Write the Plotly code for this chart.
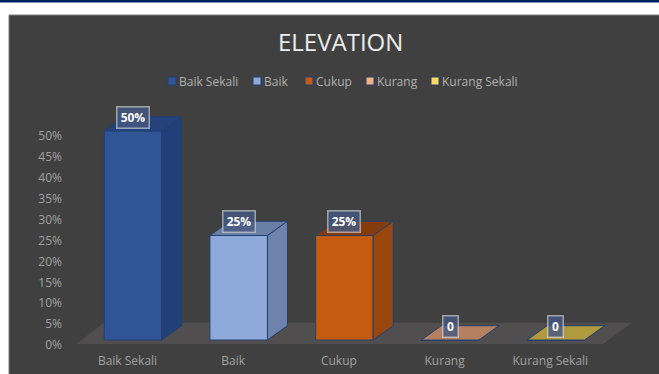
import plotly.graph_objects as go

# Chart data
categories = ["Baik Sekali", "Baik", "Cukup", "Kurang", "Kurang Sekali"]
values = [50, 25, 25, 0, 0]
value_labels = ["50%", "25%", "25%", "0", "0"]
y_ticks = [0, 5, 10, 15, 20, 25, 30, 35, 40, 45, 50]
y_tick_labels = [f"{t}%" for t in y_ticks]

# Per-series colours
front_colors = ["#2F5597", "#8EAADB", "#C55A11", "#F4B183", "#FFD966"]
side_colors = ["#213F78", "#6E83AB", "#9A470E", "#9A7A5E", "#9C8A40"]
top_colors = ["#24437C", "#6A7FA6", "#843C0C", "#B5805F", "#B09A3E"]
OUTLINE = "#24406F"

# Page geometry, in pixels
W, H = 659, 374
ML, MR, MT, MB = 66, 19, 90, 30
PLOT_W, PLOT_H = W - ML - MR, H - MT - MB
PX_PER_CATEGORY = 105.7
PX_PER_UNIT = 4.18
FIRST_BAR_PX = 133.0
BAR_LIFT_PX = 4.0      # bars stand slightly behind the front edge of the floor
BAR_WIDTH = 57.5 / PX_PER_CATEGORY
DEPTH_X = 20.0 / PX_PER_CATEGORY
DEPTH_Y = 14.3 / PX_PER_UNIT
LABEL_SHIFT = 5.5 / PX_PER_CATEGORY


def paper_x(px):
    return (px - ML) / PLOT_W


def paper_y(px):
    return (H - MB - px) / PLOT_H


x_range = [(ML - FIRST_BAR_PX) / PX_PER_CATEGORY, (W - MR - FIRST_BAR_PX) / PX_PER_CATEGORY]
y_top = PLOT_H / PX_PER_UNIT
y2_shift = BAR_LIFT_PX / PX_PER_UNIT

fig = go.Figure()
half = BAR_WIDTH / 2

# Front faces
for i, (name, v) in enumerate(zip(categories, values)):
    fig.add_trace(go.Bar(
        x=[i], y=[v], width=BAR_WIDTH, name=name, yaxis="y2",
        marker=dict(color=front_colors[i], line=dict(color=OUTLINE, width=1)),
        showlegend=False, hoverinfo="skip",
    ))

# Side and top faces, extruded from each bar's value
for i, v in enumerate(values):
    left, right = i - half, i + half
    if v > 0:
        fig.add_trace(go.Scatter(
            x=[right, right + DEPTH_X, right + DEPTH_X, right, right],
            y=[0, DEPTH_Y, v + DEPTH_Y, v, 0],
            yaxis="y2", mode="lines", fill="toself", fillcolor=side_colors[i],
            line=dict(color=OUTLINE, width=1), showlegend=False, hoverinfo="skip",
        ))
    fig.add_trace(go.Scatter(
        x=[left, right, right + DEPTH_X, left + DEPTH_X, left],
        y=[v, v, v + DEPTH_Y, v + DEPTH_Y, v],
        yaxis="y2", mode="lines", fill="toself", fillcolor=top_colors[i],
        line=dict(color=OUTLINE, width=1), showlegend=False, hoverinfo="skip",
    ))

shapes = [
    # Page furniture: dark panel and navy rule
    dict(type="rect", xref="paper", yref="paper", layer="below",
         x0=paper_x(9), x1=paper_x(W + 2), y0=paper_y(H + 2), y1=paper_y(15),
         fillcolor="#404040", line=dict(color="#7F7F7F", width=1)),
    dict(type="rect", xref="paper", yref="paper", layer="below",
         x0=paper_x(0), x1=paper_x(W), y0=paper_y(2.5), y1=paper_y(0),
         fillcolor="#002060", line=dict(width=0)),
    # Chart floor
    dict(type="path", xref="x", yref="y", layer="below",
         path=(f"M {(76 - FIRST_BAR_PX) / PX_PER_CATEGORY},0 "
               f"L {(603 - FIRST_BAR_PX) / PX_PER_CATEGORY},0 "
               f"L {(632 - FIRST_BAR_PX) / PX_PER_CATEGORY},{21.3 / PX_PER_UNIT} "
               f"L {(104 - FIRST_BAR_PX) / PX_PER_CATEGORY},{21.3 / PX_PER_UNIT} Z"),
         fillcolor="#504E4E", line=dict(width=0)),
]

annotations = [
    dict(text="ELEVATION", xref="paper", yref="paper", x=paper_x(340.5), y=paper_y(42),
         xanchor="center", yanchor="middle", showarrow=False,
         font=dict(family="Open Sans", size=24, color="#EDEDED")),
]

# Value labels sit a fixed distance above each bar's value
for i, (v, text) in enumerate(zip(values, value_labels)):
    annotations.append(dict(
        text=f"<b>{text}</b>", x=i, y=v, xref="x", yref="y2", yshift=14,
        xanchor="center", yanchor="middle", showarrow=False,
        width=28 if text.endswith("%") else 11, height=17, align="center", valign="middle",
        font=dict(family="Open Sans", size=12, color="#FFFFFF"),
        bgcolor="rgba(68,88,128,0.82)", bordercolor="rgba(225,225,225,0.6)",
        borderwidth=1.5, borderpad=1.5,
    ))

# Legend row
legend_swatch_px = [168, 253, 305, 366, 431]
for name, color, sx in zip(categories, front_colors, legend_swatch_px):
    shapes.append(dict(
        type="rect", xref="paper", yref="paper",
        x0=paper_x(sx), x1=paper_x(sx + 8), y0=paper_y(85), y1=paper_y(77),
        fillcolor=color, line=dict(color=OUTLINE, width=1),
    ))
    annotations.append(dict(
        text=name, xref="paper", yref="paper", x=paper_x(sx + 11), y=paper_y(81),
        xanchor="left", yanchor="middle", showarrow=False, xshift=-2,
        font=dict(family="Open Sans", size=12, color="#B0B0B0"),
    ))

fig.update_layout(
    width=W, height=H, margin=dict(l=ML, r=MR, t=MT, b=MB),
    paper_bgcolor="#FFFFFF", plot_bgcolor="rgba(0,0,0,0)",
    barmode="overlay", showlegend=False,
    shapes=shapes, annotations=annotations,
    xaxis=dict(
        range=x_range, showgrid=False, zeroline=False, showline=False, automargin=False,
        tickmode="array", tickvals=[i - LABEL_SHIFT for i in range(len(categories))],
        ticktext=categories, ticks="outside", ticklen=6, tickcolor="rgba(0,0,0,0)",
        tickfont=dict(family="Open Sans", size=12, color="#A0A0A0"),
    ),
    yaxis=dict(
        range=[0, y_top], showgrid=False, zeroline=False, showline=False, automargin=False,
        tickmode="array", tickvals=y_ticks, ticktext=y_tick_labels,
        ticks="", ticklabelstandoff=3, ticklabelshift=1,
        tickfont=dict(family="Open Sans", size=12, color="#A0A0A0"),
    ),
    yaxis2=dict(
        range=[-y2_shift, y_top - y2_shift], overlaying="y", side="left", automargin=False,
        showgrid=False, zeroline=False, showline=False, showticklabels=False,
    ),
)

fig.write_html("out.html", config=dict(displayModeBar=False))
